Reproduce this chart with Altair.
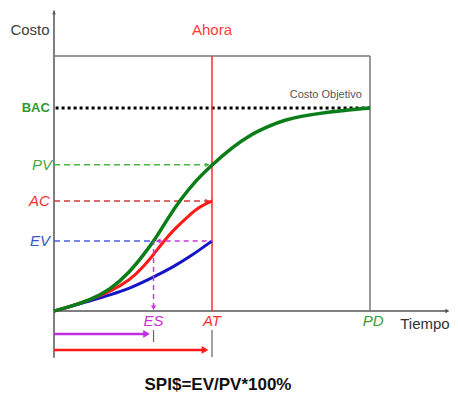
import altair as alt
import pandas as pd

# ---- data (time units: PD = 10, cost units: BAC = 100) ----
green_t = [0, 0.45, 1.14, 1.77, 2.41, 2.83, 3.20, 3.57, 3.99, 4.53, 5.0, 5.66, 6.20, 6.74, 7.25, 8.32, 10]
green_c = [0, 1.9, 5.4, 10.3, 19.4, 27.6, 35.3, 44.8, 54.7, 65.0, 72.0, 80.8, 86.7, 90.6, 94.1, 97.5, 100]
red_t = [0, 0.45, 1.14, 1.77, 2.41, 2.83, 3.14, 3.46, 3.78, 4.30, 4.62, 5.0]
red_c = [0, 1.9, 5.6, 9.5, 15.3, 21.8, 27.6, 34.1, 39.9, 47.5, 51.5, 54.2]
blue_t = [0, 0.45, 1.14, 1.77, 2.41, 3.14, 3.78, 4.30, 5.0]
blue_c = [0, 1.8, 5.0, 7.9, 11.2, 16.6, 21.8, 26.7, 34.5]

BAC, PV, AC, EV = 100, 72.0, 54.2, 34.5
ES, AT, PD = 3.15, 5.0, 10.0
BOX_TOP = 125.6
AXIS_TOP = 148
AXIS_RIGHT = 12.45

W, H = 442, 386
XMIN, XMAX = -46 / 31.6, (W - 46) / 31.6
YMIN, YMAX = -(H - 303) / 2.03, 303 / 2.03

FONT = "Liberation Sans"
XS = alt.Scale(domain=[XMIN, XMAX], nice=False, zero=False)
YS = alt.Scale(domain=[YMIN, YMAX], nice=False, zero=False)


def seg(x1, x2, y1, y2, color, width=1.5, dash=None):
    df = pd.DataFrame({"x": [x1], "x2": [x2], "y": [y1], "y2": [y2]})
    kw = dict(color=color, strokeWidth=width)
    if dash:
        kw["strokeDash"] = dash
    return alt.Chart(df).mark_rule(**kw).encode(
        x=alt.X("x:Q", scale=XS, axis=None), x2="x2:Q",
        y=alt.Y("y:Q", scale=YS, axis=None), y2="y2:Q")


def head(x, y, shape, color, size=40):
    df = pd.DataFrame({"x": [x], "y": [y]})
    return alt.Chart(df).mark_point(shape=shape, filled=True, color=color, size=size, opacity=1, strokeWidth=0).encode(
        x=alt.X("x:Q", scale=XS, axis=None), y=alt.Y("y:Q", scale=YS, axis=None))


def txt(x, y, label, color, size=13, weight="normal", style="normal", align="center"):
    df = pd.DataFrame({"x": [x], "y": [y], "t": [label]})
    return alt.Chart(df).mark_text(color=color, fontSize=size, fontWeight=weight, fontStyle=style,
                                   align=align, baseline="middle", font=FONT).encode(
        x=alt.X("x:Q", scale=XS, axis=None), y=alt.Y("y:Q", scale=YS, axis=None), text="t:N")


def curve(ts, cs, color, width):
    df = pd.DataFrame({"x": ts, "y": cs})
    return alt.Chart(df).mark_line(color=color, strokeWidth=width, interpolate="basis").encode(
        x=alt.X("x:Q", scale=XS, axis=None), y=alt.Y("y:Q", scale=YS, axis=None))


MAG = "#c43ad6"
layers = [
    # frame / axes
    seg(0, 0, -23, AXIS_TOP, "#555555", 1.5),
    head(0, AXIS_TOP - 1, "triangle-up", "#555555", 14),
    seg(0, AXIS_RIGHT, 0, 0, "#555555", 1.5),
    head(AXIS_RIGHT, 0, "triangle-right", "#555555", 22),
    seg(0, PD, BOX_TOP, BOX_TOP, "#777777", 1.5),
    seg(PD, PD, 0, BOX_TOP, "#777777", 1.5),
    # BAC dotted
    seg(0.05, PD, BAC, BAC, "#000000", 3, [3, 3]),
    # reference dashed lines
    seg(0, AT - 0.1, PV, PV, "#45b845", 1.5, [6, 4]),
    head(AT - 0.15, PV, "triangle-right", "#45b845", 22),
    seg(0, AT - 0.1, AC, AC, "#d23a3a", 1.5, [6, 4]),
    head(AT - 0.15, AC, "triangle-right", "#d23a3a", 22),
    seg(0, ES, EV, EV, "#4a5fe0", 1.5, [6, 4]),
    # AT vertical
    seg(AT, AT, 0, BOX_TOP, "#ff2a2a", 1.5),
    # curves
    curve(blue_t, blue_c, "#1414c8", 3),
    curve(red_t, red_c, "#ff1a1a", 3),
    curve(green_t, green_c, "#0b7d18", 3.5),
    # magenta ES construction
    seg(ES + 0.1, AT, EV, EV, MAG, 1.5, [5, 4]),
    head(ES + 0.15, EV, "triangle-left", MAG, 28),
    seg(ES, ES, 1.5, EV, MAG, 1.5, [5, 4]),
    head(ES, 1.6, "triangle-down", MAG, 28),
    # bottom duration arrows
    seg(ES, ES, -9.4, -15.3, "#666666", 1.2),
    seg(AT, AT, -9.4, -22.7, "#666666", 1.2),
    seg(0, ES - 0.2, -11.3, -11.3, "#c030e0", 2.5),
    head(ES - 0.22, -11.3, "triangle-right", "#c030e0", 60),
    seg(0, AT - 0.2, -19.2, -19.2, "#ff1a1a", 2.5),
    head(AT - 0.22, -19.2, "triangle-right", "#ff1a1a", 60),
    # text
    txt(-0.76, 138.4, "Costo", "#404040", 15),
    txt(AT, 138.4, "Ahora", "#ff3b3b", 15),
    txt(8.6, 106.4, "Costo Objetivo", "#555555", 11),
    txt(-0.13, BAC, "BAC", "#2f9a2f", 13, "bold", align="right"),
    txt(-0.06, PV, "PV", "#45a845", 15, style="italic", align="right"),
    txt(-0.13, AC, "AC", "#ee3030", 15, style="italic", align="right"),
    txt(-0.13, EV, "EV", "#3a55c0", 15, style="italic", align="right"),
    txt(ES, -5.0, "ES", "#cc33cc", 15, style="italic"),
    txt(AT, -5.0, "AT", "#ff3030", 15, style="italic"),
    txt(PD + 0.1, -5.0, "PD", "#3a9a3a", 15, style="italic"),
    txt(11.74, -6.4, "Tiempo", "#333333", 15),
    txt(5.19, -36.3, "SPI$=EV/PV*100%", "#111111", 17, "bold"),
]

chart = alt.layer(*layers).properties(
    width=W, height=H, padding=0,
    autosize=alt.AutoSizeParams(type="none"),
).configure_view(stroke=None)

chart.save("out.html", embed_options={"renderer": "svg", "actions": False})
